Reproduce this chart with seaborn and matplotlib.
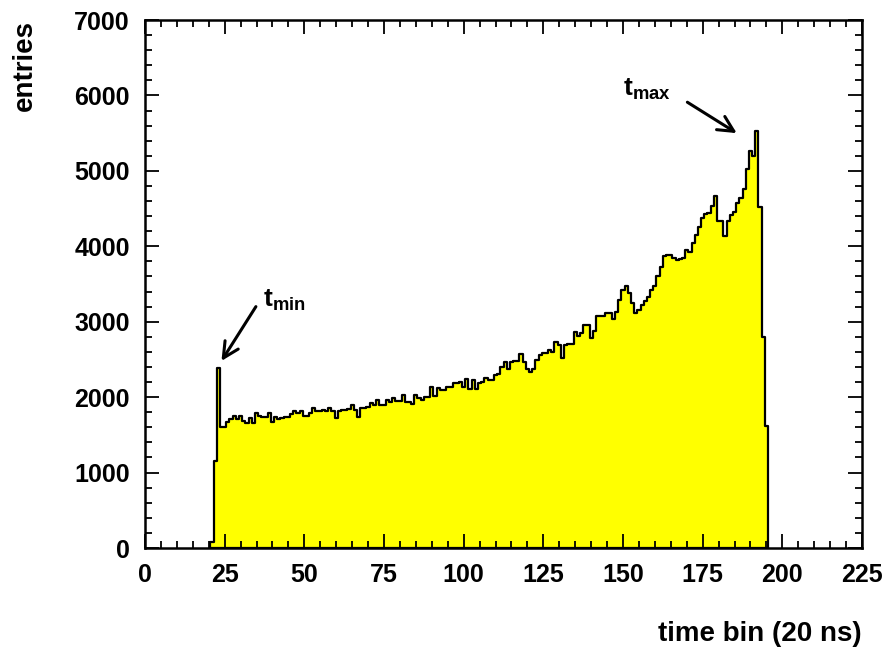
import numpy as np
import pandas as pd
import matplotlib
matplotlib.use("Agg")
import matplotlib.pyplot as plt
from matplotlib.ticker import MultipleLocator
import seaborn as sns

# Drift-time spectrum: entries per time bin (bin centres 21 ... 195)
counts = [
    80, 1150, 2390, 1610, 1610, 1670, 1705, 1750, 1705, 1750,
    1690, 1660, 1720, 1660, 1785, 1755, 1735, 1735, 1795, 1675,
    1735, 1705, 1720, 1735, 1735, 1775, 1810, 1785, 1810, 1750,
    1750, 1785, 1850, 1810, 1810, 1830, 1810, 1850, 1810, 1720,
    1810, 1830, 1830, 1840, 1895, 1830, 1740, 1860, 1860, 1875,
    1920, 1900, 1960, 1900, 1890, 1960, 1940, 1990, 1950, 1950,
    2025, 1940, 1930, 1910, 2025, 1990, 1960, 2005, 2005, 2135,
    2010, 2120, 2100, 2090, 2130, 2140, 2185, 2185, 2195, 2140,
    2235, 2105, 2230, 2105, 2185, 2200, 2250, 2230, 2230, 2295,
    2310, 2395, 2460, 2370, 2470, 2485, 2485, 2575, 2460, 2370,
    2330, 2370, 2495, 2560, 2580, 2590, 2625, 2600, 2735, 2690,
    2515, 2690, 2700, 2710, 2870, 2810, 2845, 2960, 2960, 2780,
    2880, 3070, 3070, 3080, 3110, 3110, 3035, 3135, 3290, 3420,
    3475, 3380, 3250, 3110, 3160, 3220, 3270, 3330, 3420, 3470,
    3600, 3730, 3870, 3890, 3880, 3840, 3820, 3830, 3850, 3950,
    3930, 4040, 4150, 4260, 4370, 4430, 4440, 4530, 4670, 4340,
    4340, 4140, 4340, 4415, 4450, 4570, 4645, 4760, 5020, 5265,
    5200, 5530, 4520, 2800, 1620,
]
first_bin = 21
bin_centers = np.arange(first_bin, first_bin + len(counts))
bin_edges = list(np.arange(first_bin - 0.5, first_bin + len(counts) + 0.5, 1.0))
spectrum = pd.DataFrame({"bin": bin_centers, "entries": counts})

x_ticks = [0, 25, 50, 75, 100, 125, 150, 175, 200, 225]
y_ticks = [0, 1000, 2000, 3000, 4000, 5000, 6000, 7000]

# t_min / t_max markers: (arrow tail, arrow tip, label position)
tmin_tail, tmin_tip, tmin_text = (34.8, 3200), (24.0, 2480), (37.0, 3200)
tmax_tail, tmax_tip, tmax_text = (170.2, 5910), (185.7, 5500), (150.0, 6000)

sns.set_style("white")
plt.rcParams["font.family"] = ["Liberation Sans", "DejaVu Sans"]
plt.rcParams["font.weight"] = "bold"
plt.rcParams["text.color"] = "black"
plt.rcParams["axes.labelcolor"] = "black"
plt.rcParams["mathtext.fontset"] = "custom"
plt.rcParams["mathtext.rm"] = "Liberation Sans:bold"
plt.rcParams["mathtext.bf"] = "Liberation Sans:bold"
plt.rcParams["mathtext.it"] = "Liberation Sans:bold"

fig = plt.figure(figsize=(8.85, 6.49), dpi=100)
ax = fig.add_axes([145 / 885, 1 - 548 / 649, 717 / 885, 528 / 649])

sns.histplot(
    data=spectrum, x="bin", weights="entries", bins=bin_edges,
    element="step", fill=True, color="#ffff00", alpha=1.0,
    edgecolor="black", linewidth=1.6, ax=ax,
)

ax.set_axisbelow(False)
ax.set_xlim(0, 225)
ax.set_ylim(0, 7000)
ax.set_xticks(x_ticks)
ax.set_yticks(y_ticks)
ax.xaxis.set_minor_locator(MultipleLocator(5))
ax.yaxis.set_minor_locator(MultipleLocator(200))
ax.tick_params(which="both", direction="in", bottom=True, left=True,
               top=True, right=True, width=1.3, colors="black",
               labelcolor="black", labelsize=18)
ax.tick_params(which="major", length=10)
ax.tick_params(which="minor", length=5)
ax.tick_params(axis="x", pad=11)
ax.tick_params(axis="y", pad=11)
for s in ax.spines.values():
    s.set_visible(True)
    s.set_linewidth(1.8)
    s.set_color("black")
    s.set_zorder(5)

ax.set_xlabel("time bin (20 ns)", loc="right", fontsize=20,
              fontweight="bold", labelpad=24)
ax.set_ylabel("entries", loc="top", fontsize=20,
              fontweight="bold", labelpad=26)

arrow = dict(arrowstyle="->", lw=2.2, color="black", mutation_scale=28,
             shrinkA=0, shrinkB=0)
ax.annotate("", xy=tmin_tip, xytext=tmin_tail, arrowprops=arrow)
ax.annotate("", xy=tmax_tip, xytext=tmax_tail, arrowprops=arrow)
ax.text(*tmin_text, r"$\mathbf{t}_{\mathbf{min}}$", fontsize=19,
        ha="left", va="baseline")
ax.text(*tmax_text, r"$\mathbf{t}_{\mathbf{max}}$", fontsize=19,
        ha="left", va="baseline")

fig.savefig("out.png", dpi=100, facecolor="white")
